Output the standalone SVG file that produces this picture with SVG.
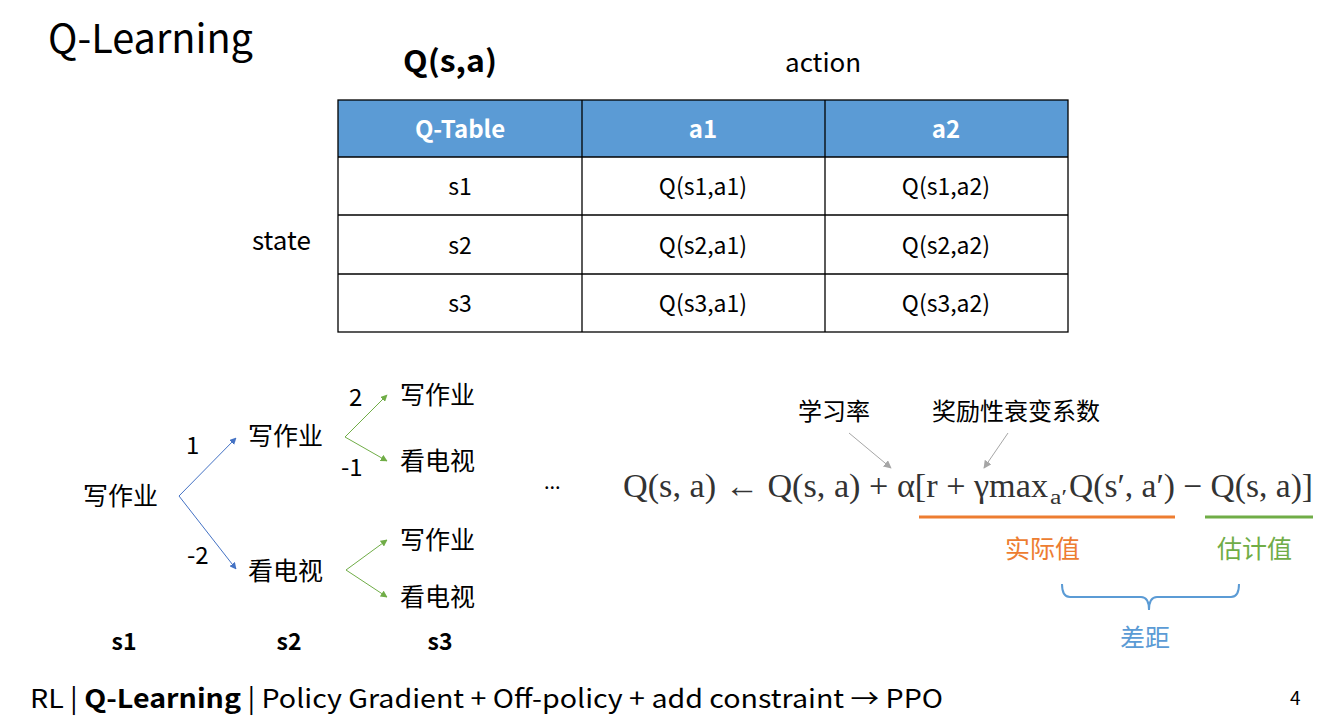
<svg xmlns="http://www.w3.org/2000/svg" width="1342" height="721" viewBox="0 0 1342 721">
  <style>
    text { font-family: "Noto Sans CJK SC", "Noto Sans", sans-serif; fill: #000; }
    .cell { font-size: 23px; text-anchor: middle; }
    .head { font-size: 24px; font-weight: bold; fill: #fff; text-anchor: middle; }
    .cn { font-size: 25px; }
    .num { font-size: 24px; }
    .st { font-size: 23px; font-weight: bold; text-anchor: middle; }
    .math { font-family: "Liberation Serif", "DejaVu Serif", serif; font-size: 33px; fill: #333; }
    .grid { stroke: #000; stroke-width: 1.3; fill: none; }
  </style>
  <defs>
    <marker id="ab" viewBox="0 0 10 10" refX="9" refY="5" markerWidth="7" markerHeight="7" orient="auto" markerUnits="userSpaceOnUse">
      <path d="M0,0 L10,5 L0,10 z" fill="#4472c4"/>
    </marker>
    <marker id="ag" viewBox="0 0 10 10" refX="9" refY="5" markerWidth="7" markerHeight="7" orient="auto" markerUnits="userSpaceOnUse">
      <path d="M0,0 L10,5 L0,10 z" fill="#70ad47"/>
    </marker>
    <marker id="agr" viewBox="0 0 10 10" refX="9" refY="5" markerWidth="8" markerHeight="8" orient="auto" markerUnits="userSpaceOnUse">
      <path d="M0,0 L10,5 L0,10 z" fill="#a6a6a6"/>
    </marker>
  </defs>

  <rect width="1342" height="721" fill="#fff"/>

  <!-- titles -->
  <text x="48" y="53" font-size="40" textLength="205" lengthAdjust="spacingAndGlyphs">Q-Learning</text>
  <text x="403" y="72" font-size="30" font-weight="bold" textLength="94" lengthAdjust="spacingAndGlyphs">Q(s,a)</text>
  <text x="785" y="72" font-size="26">action</text>
  <text x="252" y="250" font-size="26">state</text>

  <!-- Q-table -->
  <g id="qtable">
    <rect x="338" y="100" width="730" height="57" fill="#5b9bd5"/>
    <rect x="338" y="100" width="730" height="232" class="grid"/>
    <line x1="338" y1="157" x2="1068" y2="157" class="grid"/>
    <line x1="338" y1="215" x2="1068" y2="215" class="grid"/>
    <line x1="338" y1="274" x2="1068" y2="274" class="grid"/>
    <line x1="582" y1="100" x2="582" y2="332" class="grid"/>
    <line x1="825" y1="100" x2="825" y2="332" class="grid"/>
    <text x="460" y="138" class="head">Q-Table</text>
    <text x="703" y="138" class="head">a1</text>
    <text x="946" y="138" class="head">a2</text>
    <text x="460" y="195" class="cell">s1</text>
    <text x="703" y="195" class="cell">Q(s1,a1)</text>
    <text x="946" y="195" class="cell">Q(s1,a2)</text>
    <text x="460" y="254" class="cell">s2</text>
    <text x="703" y="254" class="cell">Q(s2,a1)</text>
    <text x="946" y="254" class="cell">Q(s2,a2)</text>
    <text x="460" y="312" class="cell">s3</text>
    <text x="703" y="312" class="cell">Q(s3,a1)</text>
    <text x="946" y="312" class="cell">Q(s3,a2)</text>
  </g>

  <!-- decision tree nodes -->
  <g id="n-s1"><text x="83" y="505" class="cn">写作业</text></g>
  <g id="n-s2a"><text x="248" y="445" class="cn">写作业</text></g>
  <g id="n-s2b"><text x="248" y="580" class="cn">看电视</text></g>
  <g id="n-s3a"><text x="400" y="404" class="cn">写作业</text></g>
  <g id="n-s3b"><text x="400" y="470" class="cn">看电视</text></g>
  <g id="n-s3c"><text x="400" y="549" class="cn">写作业</text></g>
  <g id="n-s3d"><text x="400" y="606" class="cn">看电视</text></g>

  <g id="connectors" fill="none" stroke-width="1">
    <line x1="179" y1="496" x2="236" y2="438" stroke="#4472c4" marker-end="url(#ab)"/>
    <line x1="179" y1="496" x2="236" y2="569" stroke="#4472c4" marker-end="url(#ab)"/>
    <line x1="345" y1="437" x2="387" y2="395" stroke="#70ad47" marker-end="url(#ag)"/>
    <line x1="345" y1="437" x2="387" y2="461" stroke="#70ad47" marker-end="url(#ag)"/>
    <line x1="346" y1="570" x2="387" y2="540" stroke="#70ad47" marker-end="url(#ag)"/>
    <line x1="346" y1="570" x2="387" y2="597" stroke="#70ad47" marker-end="url(#ag)"/>
    <line x1="849" y1="433" x2="891" y2="468" stroke="#a6a6a6" marker-end="url(#agr)"/>
    <line x1="1008" y1="433" x2="984" y2="468" stroke="#a6a6a6" marker-end="url(#agr)"/>
  </g>

  <!-- edge rewards -->
  <text x="186" y="454" class="num">1</text>
  <text x="187" y="564" class="num">-2</text>
  <text x="349" y="406" class="num">2</text>
  <text x="341" y="476" class="num">-1</text>

  <!-- step labels -->
  <text x="124" y="650" class="st">s1</text>
  <text x="289" y="650" class="st">s2</text>
  <text x="440" y="650" class="st">s3</text>

  <text x="544" y="489" font-size="20">...</text>

  <!-- update rule -->
  <g id="formula">
    <text class="math"><tspan x="623" y="497" textLength="425" lengthAdjust="spacingAndGlyphs">Q(s, a) ← Q(s, a) + α[r + γmax</tspan><tspan x="1050" y="504" font-size="20" textLength="17" lengthAdjust="spacingAndGlyphs">a′</tspan><tspan x="1069" y="497" textLength="244" lengthAdjust="spacingAndGlyphs">Q(s′, a′) − Q(s, a)]</tspan></text>
  </g>
  <text x="798" y="420" font-size="24">学习率</text>
  <text x="932" y="420" font-size="24">奖励性衰变系数</text>

  <line x1="919" y1="517" x2="1175" y2="517" stroke="#ed7d31" stroke-width="3"/>
  <line x1="1205" y1="517" x2="1313" y2="517" stroke="#70ad47" stroke-width="3"/>
  <text x="1005" y="558" font-size="25" style="fill:#ed7d31">实际值</text>
  <text x="1217" y="558" font-size="25" style="fill:#70ad47">估计值</text>
  <path d="M1062,584 Q1062,597 1070,597 L1141,597 Q1149,597 1149,610 Q1149,597 1157,597 L1231,597 Q1239,597 1239,584" fill="none" stroke="#5b9bd5" stroke-width="2"/>
  <text x="1120" y="647" font-size="25" style="fill:#5b9bd5">差距</text>

  <!-- footer -->
  <text x="30" y="708" font-size="26" textLength="913" lengthAdjust="spacingAndGlyphs">RL | <tspan font-weight="bold">Q-Learning</tspan> | Policy Gradient + Off-policy + add constraint → PPO</text>
  <text x="1290" y="705" font-size="19">4</text>
</svg>
